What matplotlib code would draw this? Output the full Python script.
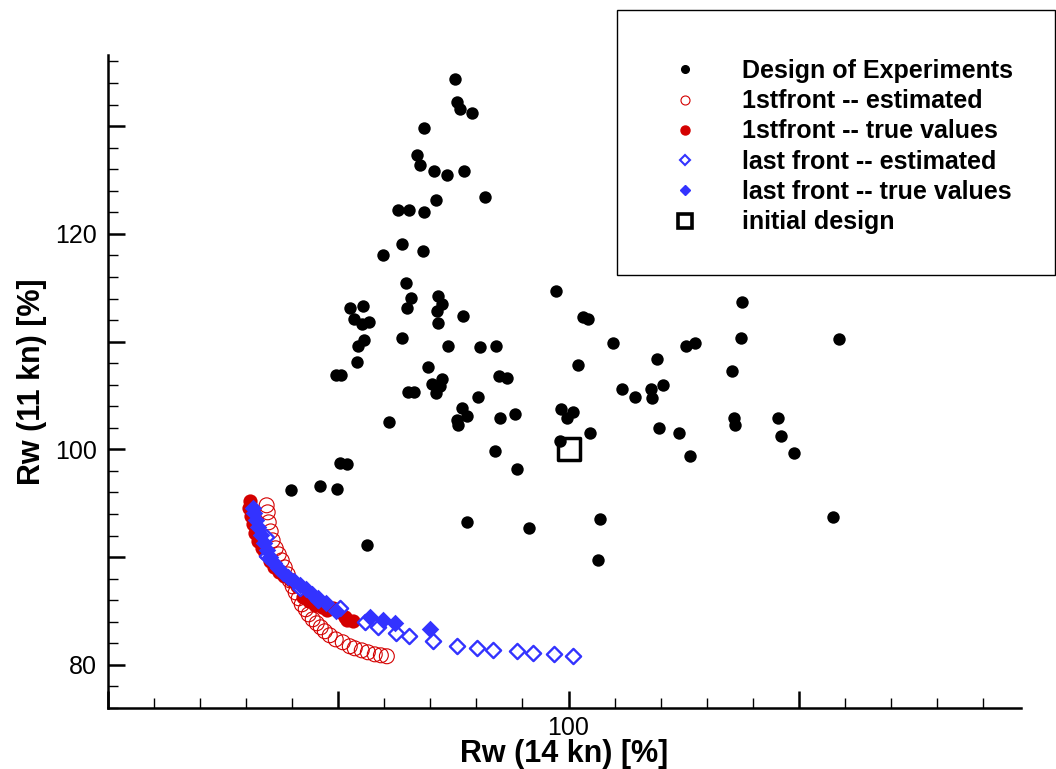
import matplotlib
matplotlib.use('Agg')
import matplotlib.pyplot as plt
from matplotlib.lines import Line2D
from matplotlib.patches import Rectangle
from matplotlib.ticker import MultipleLocator, FuncFormatter

plt.rcParams['font.family'] = ['Liberation Sans', 'DejaVu Sans']

# Design of Experiments (x: Rw 14 kn, y: Rw 11 kn)
doe_x = [90.16, 90.28, 90.57, 91.61, 87.46, 86.85, 87.09, 88.28, 89.46, 90.89,
         92.74, 88.48, 85.15, 86.13, 87.46, 85.52, 83.90, 87.32, 85.90, 86.30,
         88.70, 88.97, 81.04, 82.17, 85.96, 88.59, 90.80, 81.37, 82.10, 82.71,
         88.63, 85.55, 82.24, 81.72, 89.50, 92.35, 93.74, 81.63, 87.81, 79.84,
         80.22, 89.03, 88.16, 88.83, 88.45, 94.00, 94.65, 86.04, 86.57, 92.13,
         90.71, 91.20, 90.33, 90.42, 94.09, 95.32, 84.39, 93.63, 95.50, 80.13,
         80.80, 75.90, 78.45, 79.90, 91.17, 96.57, 82.50, 98.89, 101.29, 101.72,
         115.09, 103.90, 110.19, 111.00, 115.00, 123.52, 100.80, 107.67, 114.22, 104.68,
         105.81, 107.15, 107.23, 108.19, 99.37, 100.37, 99.90, 101.87, 107.87, 109.61,
         110.57, 114.39, 114.48, 118.16, 118.45, 119.58, 99.26, 102.74, 102.54, 122.94]
doe_y = [134.39, 132.22, 131.60, 131.26, 129.81, 127.34, 126.35, 125.88, 125.42, 125.88,
         123.38, 123.10, 122.24, 122.24, 122.01, 119.08, 118.00, 118.40, 115.43, 114.04,
         114.27, 113.47, 113.14, 113.29, 113.11, 112.83, 112.40, 112.06, 111.60, 111.85,
         111.75, 110.32, 110.11, 109.55, 109.58, 109.51, 109.58, 108.10, 107.61, 106.86,
         106.93, 106.56, 106.09, 105.91, 105.26, 106.77, 106.65, 105.29, 105.29, 104.82,
         103.80, 103.06, 102.76, 102.23, 102.94, 103.29, 102.57, 99.83, 98.16, 98.73,
         98.61, 96.20, 96.57, 96.29, 93.29, 92.74, 91.12, 114.66, 112.24, 112.09,
         113.64, 109.86, 109.58, 109.90, 110.32, 110.20, 107.82, 108.38, 107.24, 105.63,
         104.89, 105.63, 104.80, 105.94, 103.74, 103.43, 102.90, 101.51, 102.01, 101.51,
         99.38, 102.94, 102.29, 102.94, 101.23, 99.66, 100.77, 93.57, 89.70, 93.72]

# 1st front -- estimated
first_est_x = [73.78, 73.87, 73.96, 74.13, 74.30, 74.57, 74.83, 75.09, 75.35, 75.61,
               75.78, 76.04, 76.30, 76.57, 76.83, 77.17, 77.43, 77.78, 78.13, 78.48,
               78.83, 79.26, 79.78, 80.39, 81.00, 81.43, 82.04, 82.57, 83.17, 83.70, 84.22]
first_est_y = [94.81, 94.16, 93.23, 92.39, 91.56, 90.82, 90.26, 89.70, 89.05, 88.40,
               87.85, 87.29, 86.73, 86.18, 85.62, 85.16, 84.69, 84.23, 83.86, 83.49,
               83.12, 82.75, 82.37, 82.10, 81.73, 81.54, 81.35, 81.17, 80.98, 80.89, 80.80]

# 1st front -- true values
first_true_x = [72.30, 72.22, 72.39, 72.57, 72.74, 73.00, 73.35, 73.61, 74.04, 74.39,
                74.83, 75.26, 75.87, 76.39, 76.91, 77.43, 77.96, 78.57, 79.00, 79.52,
                80.13, 80.57, 80.74, 81.26]
first_true_y = [95.18, 94.53, 93.78, 93.04, 92.21, 91.47, 90.82, 90.35, 89.61, 89.05,
                88.59, 88.22, 87.85, 87.29, 86.27, 85.90, 85.53, 85.34, 85.06, 85.25,
                84.88, 84.42, 84.14, 84.04]

# last front -- estimated
last_est_x = [73.70, 73.78, 76.65, 78.22, 80.13, 82.30, 83.43, 85.00, 86.13, 88.22,
              90.30, 92.04, 93.43, 95.52, 96.91, 98.74, 100.39]
last_est_y = [91.84, 90.07, 87.11, 85.99, 85.25, 83.95, 83.49, 82.93, 82.65, 82.19,
              81.73, 81.54, 81.35, 81.26, 81.08, 80.98, 80.80]

# last front -- true values
last_true_x = [72.57, 72.65, 72.83, 73.00, 73.26, 73.52, 73.78, 74.04, 74.39, 74.74,
               75.17, 75.61, 76.13, 76.65, 77.17, 77.70, 78.22, 78.91, 79.78, 82.74,
               83.87, 84.91, 87.96]
last_true_y = [94.53, 94.06, 93.41, 92.76, 92.02, 91.28, 90.63, 89.98, 89.42, 88.96,
               88.50, 88.13, 87.76, 87.38, 87.01, 86.55, 86.18, 85.71, 84.97, 84.42,
               84.14, 83.86, 83.30]

init_x = [100.0]
init_y = [100.0]

legend_labels = ['Design of Experiments', '1stfront -- estimated', '1stfront -- true values',
                 'last front -- estimated', 'last front -- true values', 'initial design']

RED = '#d40000'
BLUE = '#3333ff'

W, H = 1056, 769
fig = plt.figure(figsize=(W / 100, H / 100), dpi=100)
ax = fig.add_axes([108 / W, 1 - 708 / H, (1021 - 108) / W, (708 - 55) / H])

ax.scatter(doe_x, doe_y, s=80, c='black', marker='o', linewidths=0, zorder=2)
ax.scatter(first_est_x, first_est_y, s=115, facecolors='none', edgecolors=RED,
           linewidths=0.8, marker='o', zorder=3)
ax.scatter(first_true_x, first_true_y, s=105, c=RED, marker='o', linewidths=0, zorder=4)
ax.scatter(last_est_x, last_est_y, s=60, facecolors='white', edgecolors=BLUE,
           linewidths=1.7, marker='D', zorder=5)
ax.scatter(last_true_x, last_true_y, s=80, c=BLUE, marker='D', linewidths=0, zorder=6)
ax.scatter(init_x, init_y, s=250, facecolors='none', edgecolors='black',
           linewidths=2.5, marker='s', zorder=7)

ax.set_xlim(60, 139.3)
ax.set_ylim(76, 136.6)

for side in ['top', 'right']:
    ax.spines[side].set_visible(False)
for side in ['left', 'bottom']:
    ax.spines[side].set_linewidth(1.8)

ax.xaxis.set_major_locator(MultipleLocator(20))
ax.xaxis.set_minor_locator(MultipleLocator(4))
ax.yaxis.set_major_locator(MultipleLocator(10))
ax.yaxis.set_minor_locator(MultipleLocator(2))
ax.xaxis.set_major_formatter(FuncFormatter(lambda v, p: '100' if abs(v - 100) < 1e-6 else ''))
ax.yaxis.set_major_formatter(FuncFormatter(
    lambda v, p: '%d' % round(v) if round(v) in (80, 100, 120) else ''))

ax.tick_params(which='both', direction='in', top=False, right=False, labelsize=18)
ax.tick_params(which='major', length=12.5, width=1.8, pad=8)
ax.tick_params(axis='x', which='major', pad=6)
ax.tick_params(which='minor', length=7, width=1)

ax.set_xlabel('Rw (14 kn) [%]', fontsize=22, fontweight='bold', labelpad=-1)
ax.set_ylabel('Rw (11 kn) [%]', fontsize=22, fontweight='bold', labelpad=6)

# legend with its own frame that sits partly outside the axes
handles = [
    Line2D([], [], ls='none', marker='o', ms=5.5, mfc='black', mec='black'),
    Line2D([], [], ls='none', marker='o', ms=6.5, mfc='none', mec=RED, mew=0.8),
    Line2D([], [], ls='none', marker='o', ms=6.5, mfc=RED, mec=RED),
    Line2D([], [], ls='none', marker='D', ms=5, mfc='white', mec=BLUE, mew=1.5),
    Line2D([], [], ls='none', marker='D', ms=5, mfc=BLUE, mec=BLUE),
    Line2D([], [], ls='none', marker='s', ms=10, mfc='none', mec='black', mew=2.6),
]
leg = fig.legend(handles, legend_labels, loc='upper left',
                 bbox_to_anchor=(660 / W, 1 - 59 / H), frameon=False,
                 prop={'size': 18, 'weight': 'bold'}, handlelength=2.0,
                 handletextpad=1.28, labelspacing=0.25, borderpad=0, borderaxespad=0)

fig.patches.append(Rectangle((617 / W, 1 - 275 / H), (1055 - 617) / W, (275 - 10) / H,
                             transform=fig.transFigure, fill=False, edgecolor='black',
                             linewidth=1.0))

fig.savefig('out.png', dpi=100)
